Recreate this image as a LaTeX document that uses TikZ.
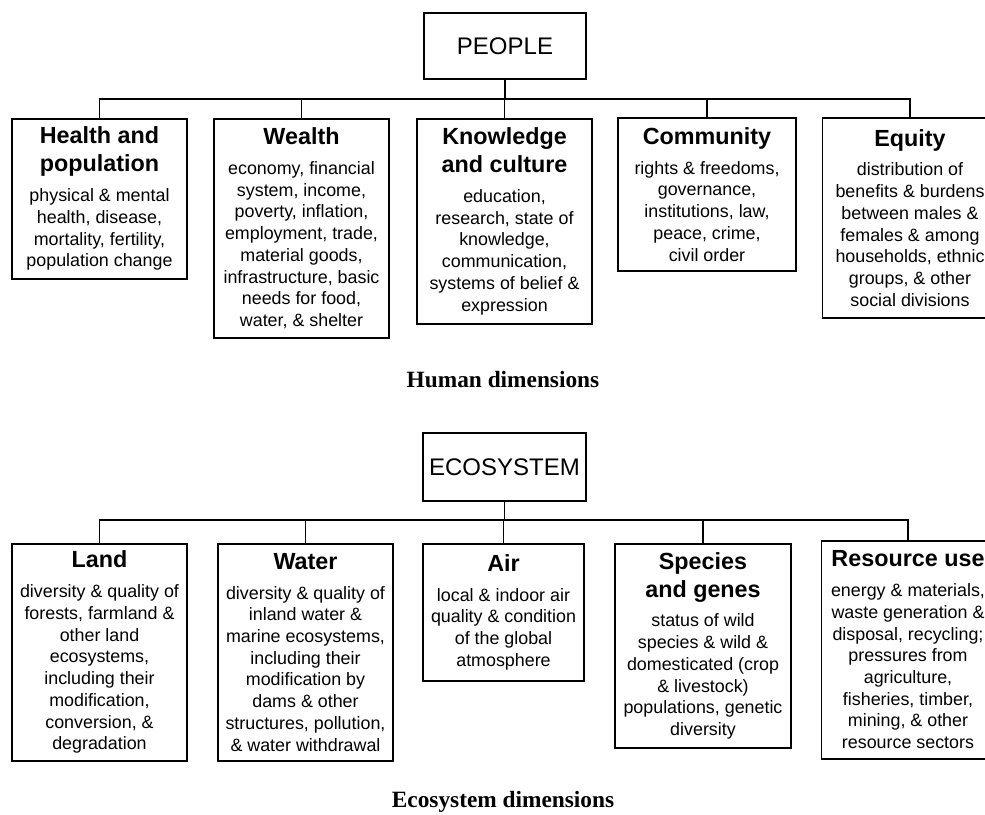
\documentclass[tikz,border=0pt]{standalone}
\usepackage{fontspec}
\setmainfont{Liberation Sans}
\newfontfamily\capfont{Liberation Serif}
\newcommand{\titlefont}{\fontsize{17.5}{21}\selectfont\bfseries}
\newcommand{\bodyfont}{\fontsize{13.4}{16.3}\selectfont}
\newcommand{\dimtext}[2]{{\titlefont #1\par}\vspace{6pt}{\bodyfont #2\par}}
\tikzset{
  rootbox/.style={draw, line width=1.2pt, minimum width=121.5pt, minimum height=49.5pt,
    font=\fontsize{18}{22}\selectfont},
  catbox/.style={draw, line width=1.2pt, anchor=north, inner xsep=0pt, inner ysep=0pt,
    text width=131.25pt, align=flush center},
  link/.style={line width=1pt},
  capnode/.style={font=\capfont\bfseries\fontsize{17.5}{21}\selectfont}
}
\begin{document}
\begin{tikzpicture}[x=0.75pt,y=-0.75pt]
\useasboundingbox (0,0) rectangle (985,814);
\clip (0,0) rectangle (985,814);

% human side
\node[rootbox] (people) at (505,46) {PEOPLE};
\coordinate (hbus) at (0,99);
\node[catbox, minimum height=120pt] (health) at (99.5,118)
  {\dimtext{Health and\\population}{physical \& mental\\health, disease,\\mortality, fertility,\\population change}};
\node[catbox, minimum height=164.25pt] (wealth) at (301.5,118)
  {\dimtext{Wealth}{economy, financial\\system, income,\\poverty, inflation,\\employment, trade,\\material goods,\\infrastructure, basic\\needs for food,\\water, \& shelter}};
\node[catbox, minimum height=153.75pt] (knowledge) at (504.5,118)
  {\dimtext{Knowledge\\and culture}{education,\\research, state of\\knowledge,\\communication,\\systems of belief \&\\expression}};
\node[catbox, text width=133.5pt, minimum height=114.75pt] (community) at (707,117)
  {\dimtext{Community}{rights \& freedoms,\\governance,\\institutions, law,\\peace, crime,\\civil order}};
\node[catbox, minimum height=150pt] (equity) at (910,117)
  {\dimtext{Equity}{distribution of\\benefits \& burdens\\between males \&\\females \& among\\households, ethnic\\groups, \& other\\social divisions}};
\draw[link] (people.south) -- (people.south |- hbus);
\draw[link] (health.north) -- (health.north |- hbus) -- (equity.north |- hbus) -- (equity.north);
\foreach \n in {wealth,knowledge,community}
  \draw[link] (\n.north) -- (\n.north |- hbus);
\node[capnode] (humcap) at (503,380) {Human dimensions};

% ecosystem side
\node[rootbox, minimum width=122.25pt, minimum height=51pt] (eco) at (504.5,467) {ECOSYSTEM};
\coordinate (ebus) at (0,520);
\node[catbox, minimum height=162.75pt] (land) at (99.5,543)
  {\dimtext{Land}{diversity \& quality of\\forests, farmland \&\\other land\\ecosystems,\\including their\\modification,\\conversion, \&\\degradation}};
\node[catbox, minimum height=162.75pt] (water) at (305.5,543)
  {\dimtext{Water}{diversity \& quality of\\inland water \&\\marine ecosystems,\\including their\\modification by\\dams \& other\\structures, pollution,\\\& water withdrawal}};
\node[catbox, text width=120.75pt, minimum height=102.75pt] (air) at (503.5,543)
  {\dimtext{Air}{local \& indoor air\\quality \& condition\\of the global\\atmosphere}};
\node[catbox, text width=132pt, minimum height=153pt] (species) at (703,543)
  {\dimtext{Species\\and genes}{status of wild\\species \& wild \&\\domesticated (crop\\\& livestock)\\populations, genetic\\diversity}};
\node[catbox, text width=130pt, minimum height=163.5pt] (resource) at (908,540)
  {\dimtext{Resource use}{energy \& materials,\\waste generation \&\\disposal, recycling;\\pressures from\\agriculture,\\fisheries, timber,\\mining, \& other\\resource sectors}};
\draw[link] (eco.south) -- (eco.south |- ebus);
\draw[link] (land.north) -- (land.north |- ebus) -- (resource.north |- ebus) -- (resource.north);
\foreach \n in {water,air,species}
  \draw[link] (\n.north) -- (\n.north |- ebus);
\node[capnode] (ecocap) at (503,802) {Ecosystem dimensions};
\end{tikzpicture}
\end{document}
